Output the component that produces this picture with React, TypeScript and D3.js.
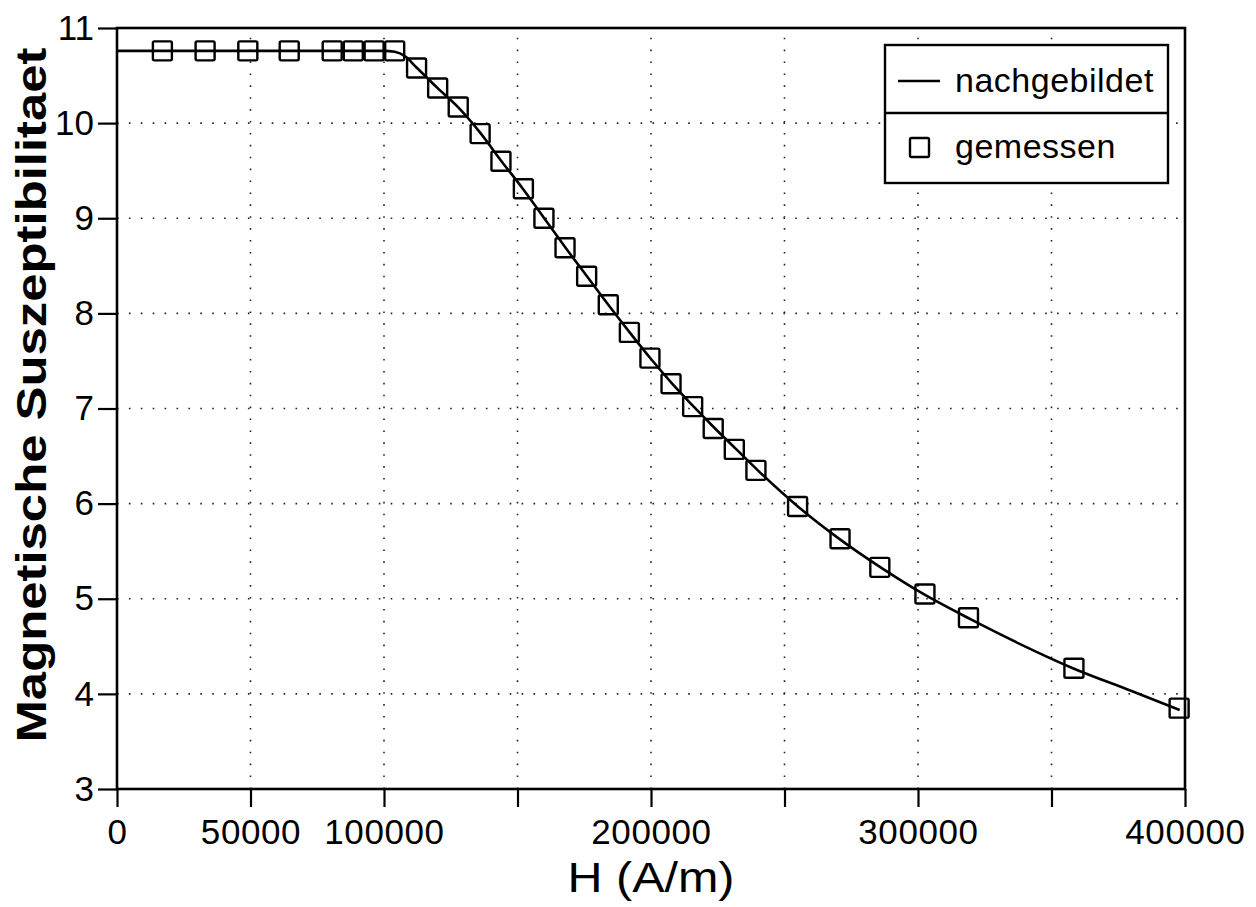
import React, { useEffect, useRef } from 'react';
import * as d3 from 'd3';

// measured susceptibility (squares)
const measuredH = [
  17000, 33000, 49000, 64500, 80600, 88500, 96300, 104000, 112200, 120100,
  127800, 136000, 143800, 152200, 159900, 167800, 175900, 184000, 191900, 199600,
  207500, 215600, 223300, 231200, 239300, 254900, 270800, 285700, 302600, 318900,
  358400, 397800,
];
const measuredChi = [
  10.76, 10.76, 10.76, 10.76, 10.76, 10.76, 10.76, 10.76, 10.58, 10.37,
  10.17, 9.89, 9.60, 9.31, 9.00, 8.69, 8.39, 8.09, 7.80, 7.53,
  7.26, 7.02, 6.79, 6.57, 6.35, 5.97, 5.63, 5.33, 5.05, 4.80,
  4.27, 3.85,
];

// modelled curve (solid line)
const modelH = [
  0, 100000, 104000, 108000, 112000, 120000, 128000, 136000, 144000, 152000,
  160000, 168000, 176000, 184000, 192000, 200000, 208000, 216000, 224000, 232000,
  240000, 255000, 270000, 286000, 302000, 320000, 340000, 358000, 380000, 398000,
];
const modelChi = [
  10.76, 10.76, 10.75, 10.70, 10.59, 10.37, 10.16, 9.90, 9.60, 9.31,
  9.00, 8.69, 8.39, 8.09, 7.80, 7.52, 7.26, 7.02, 6.79, 6.57,
  6.35, 5.97, 5.64, 5.33, 5.05, 4.78, 4.50, 4.27, 4.03, 3.83,
];

const xTicks = [0, 50000, 100000, 150000, 200000, 250000, 300000, 350000, 400000];
const xTickLabels = ['0', '50000', '100000', '', '200000', '', '300000', '', '400000'];
const yTicks = [3, 4, 5, 6, 7, 8, 9, 10, 11];

const legendLabels = ['nachgebildet', 'gemessen'];

const W = 1256;
const H = 907;
const FONT = '"Liberation Sans", Arial, sans-serif';

export default function App() {
  const svgRef = useRef<SVGSVGElement | null>(null);

  useEffect(() => {
    if (!svgRef.current) return;
    const svg = d3.select(svgRef.current);
    svg.selectAll('*').remove();

    const left = 117, right = 1185, top = 28, bottom = 789;

    const x = d3.scaleLinear().domain([0, 400000]).range([left, right]);
    const y = d3.scaleLinear().domain([3, 11]).range([bottom, top]);

    svg.append('rect').attr('width', W).attr('height', H).attr('fill', '#fff');

    // dotted grid
    const grid = svg.append('g')
      .attr('stroke', '#222')
      .attr('stroke-width', 1.6)
      .attr('stroke-dasharray', '1.6 10.3');
    grid.selectAll('.vg')
      .data(xTicks.slice(1, -1))
      .enter()
      .append('line')
      .attr('x1', d => x(d)).attr('x2', d => x(d))
      .attr('y1', bottom).attr('y2', top);
    grid.selectAll('.hg')
      .data(yTicks.slice(1, -1))
      .enter()
      .append('line')
      .attr('x1', left).attr('x2', right)
      .attr('y1', d => y(d)).attr('y2', d => y(d));

    // axes
    const xAxis = svg.append('g')
      .attr('transform', `translate(0,${bottom})`)
      .call(d3.axisBottom(x).tickValues(xTicks).tickSize(18).tickPadding(12)
        .tickFormat((d, i) => xTickLabels[i]));
    xAxis.selectAll('line').attr('stroke', '#000').attr('stroke-width', 2.2);
    xAxis.select('.domain').remove();
    xAxis.selectAll('text')
      .attr('fill', '#000')
      .attr('font-family', FONT)
      .attr('font-size', 35)
      .attr('letter-spacing', 0.6)
      .attr('dy', '0.71em');

    const yAxis = svg.append('g')
      .attr('transform', `translate(${left},0)`)
      .call(d3.axisLeft(y).tickValues(yTicks).tickSize(19).tickPadding(4)
        .tickFormat(d3.format('d')));
    yAxis.selectAll('line').attr('stroke', '#000').attr('stroke-width', 2.2);
    yAxis.select('.domain').remove();
    yAxis.selectAll('text')
      .attr('fill', '#000')
      .attr('font-family', FONT)
      .attr('font-size', 35);

    // frame
    svg.append('rect')
      .attr('x', left).attr('y', top)
      .attr('width', right - left).attr('height', bottom - top)
      .attr('fill', 'none')
      .attr('stroke', '#000')
      .attr('stroke-width', 2.6);

    // model line
    const line = d3.line<number>()
      .x((d, i) => x(modelH[i]))
      .y(d => y(d))
      .curve(d3.curveMonotoneX);
    svg.append('path')
      .datum(modelChi)
      .attr('d', line)
      .attr('fill', 'none')
      .attr('stroke', '#000')
      .attr('stroke-width', 2.6);

    // measured squares
    const s = 19;
    svg.selectAll('.pt')
      .data(measuredChi)
      .enter()
      .append('rect')
      .attr('x', (d, i) => x(measuredH[i]) - s / 2)
      .attr('y', d => y(d) - s / 2)
      .attr('width', s)
      .attr('height', s)
      .attr('rx', 1.5)
      .attr('fill', 'none')
      .attr('stroke', '#000')
      .attr('stroke-width', 2.4);

    // legend
    const lg = svg.append('g');
    lg.append('rect')
      .attr('x', 885).attr('y', 45)
      .attr('width', 283).attr('height', 138)
      .attr('fill', '#fff')
      .attr('stroke', '#000')
      .attr('stroke-width', 2.4);
    lg.append('line')
      .attr('x1', 885).attr('x2', 1168)
      .attr('y1', 113).attr('y2', 113)
      .attr('stroke', '#000').attr('stroke-width', 2.4);
    lg.append('line')
      .attr('x1', 898).attr('x2', 940)
      .attr('y1', 81).attr('y2', 81)
      .attr('stroke', '#000').attr('stroke-width', 2.4);
    lg.append('rect')
      .attr('x', 910).attr('y', 138)
      .attr('width', 19).attr('height', 19)
      .attr('rx', 1.5)
      .attr('fill', 'none')
      .attr('stroke', '#000').attr('stroke-width', 2.4);
    lg.selectAll('.lt')
      .data(legendLabels)
      .enter()
      .append('text')
      .attr('x', 955)
      .attr('y', (d, i) => (i === 0 ? 92 : 158))
      .attr('font-family', FONT)
      .attr('font-size', 34)
      .attr('letter-spacing', 0.5)
      .attr('fill', '#000')
      .text(d => d);

    // axis titles
    svg.append('text')
      .attr('x', (left + right) / 2)
      .attr('y', 892)
      .attr('text-anchor', 'middle')
      .attr('font-family', FONT)
      .attr('font-size', 42)
      .attr('textLength', 167)
      .attr('lengthAdjust', 'spacingAndGlyphs')
      .attr('fill', '#000')
      .text('H (A/m)');

    svg.append('text')
      .attr('transform', `translate(46,${395}) rotate(-90)`)
      .attr('text-anchor', 'middle')
      .attr('font-family', FONT)
      .attr('font-size', 42)
      .attr('font-weight', 'bold')
      .attr('textLength', 695)
      .attr('lengthAdjust', 'spacingAndGlyphs')
      .attr('fill', '#000')
      .text('Magnetische Suszeptibilitaet');
  }, []);

  return (
    <svg
      ref={svgRef}
      width={W}
      height={H}
      style={{ position: 'absolute', left: 0, top: 0, display: 'block' }}
    />
  );
}
